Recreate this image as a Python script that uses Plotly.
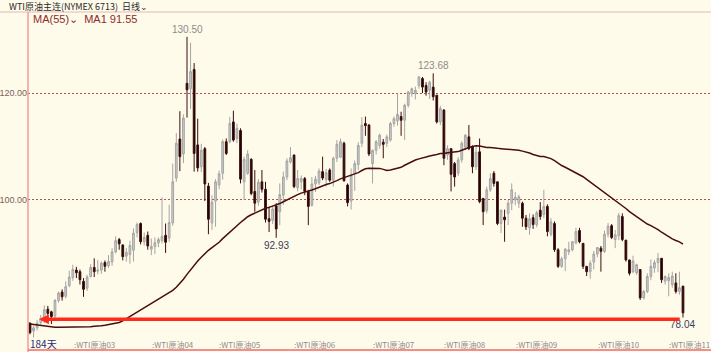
import plotly.graph_objects as go

# ---------------- data ----------------
opens = [
    77.0, 75.5, 76.1, 77.1, 77.8, 79.6, 79.1, 78.3, 81.2, 82.8,
    82.0, 84.0, 85.5, 86.9, 86.6, 84.8, 83.5, 85.7, 87.4, 86.7,
    86.9, 88.3, 87.7, 88.4, 90.3, 92.6, 91.6, 89.5, 89.8, 90.6,
    93.9, 95.6, 92.2, 93.4, 90.8, 91.3, 92.0, 92.4, 93.4, 92.9,
    95.7, 104.1, 111.4, 108.6, 121.8, 120.8, 124.4, 110.3, 106.2, 109.6,
    102.6, 95.7, 99.8, 102.8, 105.0, 110.9, 110.9, 114.6, 111.5, 113.0,
    103.4, 105.0, 107.6, 101.6, 99.6, 103.4, 102.0, 96.5, 96.2, 98.9,
    97.8, 100.9, 104.3, 107.1, 108.4, 102.3, 103.4, 104.0, 101.6, 99.0,
    103.0, 103.2, 105.3, 103.8, 105.6, 103.7, 107.8, 108.0, 110.6, 102.8,
    99.8, 105.0, 106.6, 110.6, 114.3, 114.0, 106.8, 109.3, 110.2, 110.8,
    110.6, 111.2, 114.3, 114.8, 115.6, 114.9, 117.7, 119.9, 119.9, 121.4,
    122.7, 121.4, 120.5, 121.1, 119.6, 114.6, 116.8, 108.4, 109.6, 106.8,
    105.0, 107.5, 109.9, 111.8, 109.9, 106.2, 109.0, 100.3, 98.0, 101.9,
    105.0, 103.4, 95.6, 96.8, 97.5, 99.4, 100.0, 99.4, 99.4, 96.6,
    94.8, 96.7, 95.4, 98.1, 97.3, 98.8, 93.6, 95.6, 90.7, 87.6,
    89.0, 90.3, 90.7, 92.0, 94.3, 91.9, 87.6, 86.6, 88.4, 89.9,
    91.0, 90.4, 93.6, 95.2, 92.6, 93.3, 96.9, 92.5, 88.8, 86.6,
    86.4, 87.0, 81.7, 82.9, 85.7, 87.3, 88.3, 89.1, 84.8, 84.9,
    84.2, 84.5, 82.9, 83.9,
]
highs = [
    77.1, 76.5, 77.6, 78.5, 80.3, 80.2, 79.3, 81.5, 82.9, 83.3,
    84.8, 86.8, 87.9, 87.5, 87.0, 85.4, 86.0, 88.0, 89.1, 88.8,
    88.5, 88.7, 89.7, 91.0, 93.2, 92.9, 91.7, 91.0, 92.4, 94.7,
    95.8, 95.8, 93.9, 94.1, 92.8, 93.0, 93.0, 100.5, 95.6, 99.1,
    106.8, 112.5, 116.6, 116.0, 130.5, 129.4, 125.6, 115.2, 110.5, 109.9,
    103.2, 100.9, 103.9, 105.5, 111.3, 111.5, 115.5, 116.7, 114.3, 113.4,
    108.1, 109.3, 107.8, 105.6, 103.9, 105.6, 103.4, 98.8, 98.8, 99.4,
    103.1, 105.3, 107.8, 109.9, 108.5, 105.6, 104.6, 104.3, 101.9, 104.3,
    104.5, 105.9, 108.1, 105.8, 105.9, 108.1, 111.2, 111.5, 110.9, 103.1,
    105.9, 107.4, 110.8, 115.5, 115.6, 114.2, 109.4, 111.2, 112.4, 111.4,
    112.2, 114.6, 115.6, 119.9, 116.5, 118.0, 120.4, 121.0, 121.2, 123.2,
    123.0, 122.0, 122.3, 123.68, 119.6, 117.6, 117.0, 110.2, 109.7, 107.1,
    108.0, 111.0, 112.3, 114.0, 110.2, 110.0, 111.5, 100.3, 102.5, 105.0,
    105.4, 103.4, 98.2, 98.2, 100.0, 103.1, 101.5, 101.0, 99.7, 97.2,
    97.5, 97.3, 98.0, 99.6, 101.9, 99.2, 96.6, 96.0, 91.0, 89.4,
    91.0, 92.2, 92.3, 94.8, 94.8, 91.9, 87.6, 88.7, 90.5, 91.2,
    91.4, 94.3, 95.7, 95.5, 94.4, 97.6, 97.5, 92.5, 88.8, 89.6,
    88.1, 87.1, 83.2, 86.3, 88.9, 88.8, 90.1, 89.1, 85.9, 86.3,
    86.6, 86.3, 86.6, 83.9,
]
lows = [
    74.9, 74.3, 75.6, 76.7, 77.0, 78.4, 76.8, 77.9, 80.8, 81.2,
    81.6, 83.7, 84.9, 85.4, 84.2, 81.9, 83.0, 85.5, 85.6, 86.1,
    86.2, 86.6, 87.3, 87.7, 90.0, 90.7, 88.7, 88.5, 88.1, 88.5,
    93.0, 91.7, 91.5, 90.7, 89.7, 89.9, 91.2, 91.9, 90.1, 92.2,
    95.2, 103.4, 105.4, 106.9, 115.4, 117.0, 105.3, 105.3, 105.2, 99.8,
    93.6, 94.4, 95.0, 102.0, 103.8, 108.4, 110.6, 110.9, 110.6, 103.1,
    100.0, 104.7, 100.9, 97.8, 98.9, 101.4, 95.8, 94.0, 95.5, 92.93,
    95.3, 99.1, 103.7, 106.8, 102.2, 101.6, 102.0, 100.9, 95.3, 98.8,
    101.5, 102.8, 103.7, 102.5, 103.4, 102.5, 107.1, 107.8, 103.4, 98.8,
    98.2, 101.7, 105.6, 109.9, 112.0, 108.2, 103.1, 108.5, 109.6, 107.8,
    109.9, 110.9, 113.7, 113.9, 112.0, 111.2, 117.3, 119.3, 118.8, 120.8,
    120.0, 119.5, 118.9, 118.6, 114.3, 114.0, 106.5, 107.5, 101.6, 102.5,
    104.5, 107.0, 109.3, 109.3, 105.0, 105.6, 99.4, 95.3, 97.5, 101.5,
    102.5, 95.3, 93.8, 92.2, 95.3, 98.1, 99.0, 98.5, 95.0, 94.4,
    93.5, 94.6, 94.9, 96.3, 96.6, 93.2, 93.2, 90.3, 87.3, 87.3,
    86.7, 89.7, 90.4, 91.7, 91.9, 87.1, 85.8, 85.3, 87.0, 89.3,
    86.6, 90.1, 93.0, 92.7, 91.0, 92.5, 92.3, 88.5, 85.9, 86.3,
    86.0, 81.3, 81.4, 82.6, 85.0, 86.4, 86.5, 84.5, 84.2, 82.0,
    83.6, 82.5, 82.3, 78.04,
]
closes = [
    75.2, 76.1, 77.0, 77.9, 79.5, 78.8, 78.2, 81.2, 82.6, 81.9,
    83.8, 85.6, 87.0, 86.4, 85.1, 83.3, 85.6, 87.4, 86.6, 86.9,
    88.2, 87.6, 88.5, 90.3, 92.4, 91.8, 89.4, 90.2, 91.5, 93.8,
    95.4, 92.2, 93.0, 91.4, 91.3, 92.0, 92.6, 93.2, 92.1, 95.8,
    103.4, 110.6, 108.1, 115.3, 120.6, 124.0, 108.7, 106.0, 109.3, 103.0,
    96.4, 99.6, 103.4, 104.9, 110.9, 108.7, 114.3, 111.2, 113.4, 103.9,
    107.6, 108.6, 101.2, 99.4, 103.3, 102.0, 96.4, 96.0, 98.3, 94.6,
    101.0, 104.3, 107.3, 107.9, 102.5, 104.0, 104.0, 101.6, 98.8, 103.0,
    103.9, 105.4, 104.1, 105.1, 103.7, 107.8, 110.4, 110.9, 103.6, 99.5,
    104.6, 106.8, 110.2, 114.0, 113.9, 108.6, 109.3, 110.9, 112.1, 110.4,
    111.8, 114.3, 115.2, 116.0, 114.9, 117.7, 120.2, 120.8, 120.5, 123.0,
    121.1, 120.2, 122.0, 119.3, 114.6, 117.1, 107.8, 109.6, 104.8, 104.3,
    107.5, 110.6, 112.1, 109.6, 106.2, 108.9, 99.7, 97.8, 101.9, 104.0,
    103.1, 95.6, 98.1, 96.3, 99.4, 101.9, 100.5, 100.6, 96.6, 95.0,
    96.5, 95.4, 97.6, 96.9, 98.8, 94.1, 95.9, 90.7, 87.6, 89.0,
    90.8, 90.7, 92.2, 94.1, 92.2, 87.6, 86.6, 88.2, 89.9, 91.1,
    90.4, 93.6, 95.1, 93.0, 93.5, 97.1, 92.6, 88.8, 86.3, 88.6,
    87.9, 81.7, 82.9, 85.7, 87.6, 88.3, 89.1, 85.1, 85.7, 85.5,
    85.8, 82.9, 83.6, 78.9,
]
# MA(55) values for the first sessions (history before the window)
ma_head = [
    76.8, 76.7, 76.6, 76.5, 76.4, 76.3, 76.3, 76.2, 76.2, 76.2,
    76.2, 76.2, 76.2, 76.2, 76.2, 76.3, 76.3, 76.3, 76.4, 76.4,
    76.5, 76.6, 76.7, 76.8, 76.9, 77.1, 77.4, 77.8, 78.2, 78.6,
    79.0, 79.4, 79.8, 80.2, 80.6, 81.0, 81.4, 81.8, 82.2, 82.6,
    83.1, 83.7, 84.4, 85.2, 86.1, 87.0, 87.8, 88.6, 89.3, 90.0,
    90.6, 91.1, 91.6, 92.1,
]
MA_N = 55
contract_labels = ["WTI原油03", "WTI原油04", "WTI原油05", "WTI原油06", "WTI原油07",
                   "WTI原油08", "WTI原油09", "WTI原油10", "WTI原油11"]
contract_pos = [11.7, 33.6, 52.5, 73.5, 95.5, 115.6, 135.5, 158.5, 178.4]
high_marks = [44, 113]
low_marks = [69, 183]
y_ticks = [100, 120]
header_text = "WTI原油主连(NYMEX 6713)  日线⌄"
ma_text = "MA(55)⌄  MA1 91.55"
days_text = "184天"

# ---------------- derived ----------------
n = len(closes)
xs = list(range(n))
ma = []
for i in range(n):
    if i < len(ma_head):
        ma.append(ma_head[i])
    else:
        ma.append(sum(closes[i - MA_N + 1:i + 1]) / MA_N)

BG = "#fffbea"
fig = go.Figure()
fig.add_trace(go.Candlestick(
    x=xs, open=opens, high=highs, low=lows, close=closes,
    increasing=dict(line=dict(color="#a4a4a4", width=1), fillcolor="#cbcbcb"),
    decreasing=dict(line=dict(color="#3a0e0e", width=1), fillcolor="#1c0303"),
    whiskerwidth=0, hoverinfo="skip",
))
fig.add_trace(go.Scatter(x=xs, y=ma, mode="lines",
                         line=dict(color="#4a0c0c", width=1.5), hoverinfo="skip"))

annotations = []
for i in high_marks:
    annotations.append(dict(x=i, y=highs[i], xref="x", yref="y", text=f"{highs[i]:.2f}",
                            showarrow=False, yanchor="bottom", yshift=0,
                            font=dict(family="Liberation Sans", size=10, color="#8c8c8c")))
for i in low_marks:
    annotations.append(dict(x=i, y=lows[i], xref="x", yref="y", text=f"{lows[i]:.2f}",
                            showarrow=False, yanchor="top", yshift=0,
                            font=dict(family="Liberation Sans", size=10, color="#3c3c5a")))
for lab, p in zip(contract_labels, contract_pos):
    annotations.append(dict(x=p, y=0, xref="x", yref="paper", text=":" + lab,
                            showarrow=False, xanchor="left", yanchor="middle", yshift=6,
                            font=dict(family="Noto Sans CJK SC", size=8, color="#8c8c8c")))
# red support arrow drawn from the last session back to the left
support = lows[-1] - 0.35
annotations.append(dict(x=2.6, y=support, xref="x", yref="y",
                        ax=n - 1.5, ay=support, axref="x", ayref="y",
                        text="", showarrow=True, arrowhead=2, arrowsize=0.55,
                        arrowwidth=3.5, arrowcolor="#ff2a1a"))
annotations.append(dict(x=0, y=1, xref="paper", yref="paper", text=header_text,
                        showarrow=False, xanchor="left", yanchor="middle",
                        xshift=-21, yshift=6,
                        font=dict(family="Noto Sans CJK SC", size=9, color="#2a2a2a")))
annotations.append(dict(x=0, y=1, xref="paper", yref="paper", text=ma_text,
                        showarrow=False, xanchor="left", yanchor="middle",
                        xshift=3, yshift=-6.5,
                        font=dict(family="Liberation Sans", size=11, color="#8a2c2c")))
annotations.append(dict(x=0, y=0, xref="paper", yref="paper", text=days_text,
                        showarrow=False, xanchor="left", yanchor="middle",
                        xshift=0, yshift=7,
                        font=dict(family="Noto Sans CJK SC", size=10, color="#1e2a78")))

shapes = [
    dict(type="line", xref="paper", yref="paper", x0=-28 / 683, x1=1, y0=1, y1=1,
         line=dict(color="#e4b8b8", width=1)),
    dict(type="line", xref="paper", yref="paper", x0=0, x1=0, y0=1, y1=-2 / 338,
         line=dict(color="#f29a9a", width=1.5)),
    dict(type="line", xref="paper", yref="paper", x0=0, x1=1, y0=0, y1=0,
         line=dict(color="#f06a6a", width=1.5)),
]

fig.update_layout(
    width=711, height=352,
    margin=dict(l=28, r=0, t=12, b=2),
    paper_bgcolor=BG, plot_bgcolor=BG,
    showlegend=False,
    annotations=annotations, shapes=shapes,
    xaxis=dict(range=[-0.56, 190.85], showgrid=False, zeroline=False,
               showticklabels=False, ticks="", rangeslider=dict(visible=False),
               showline=False),
    yaxis=dict(range=[71.96, 135.14], tickvals=y_ticks,
               ticktext=[f"{v:.2f}" for v in y_ticks],
               showgrid=True, gridcolor="#b85050", griddash="2px,2px", gridwidth=1,
               zeroline=False, ticks="", showline=False,
               tickfont=dict(family="Liberation Sans", size=9, color="#7a6060")),
)

fig.write_html("out.html")
